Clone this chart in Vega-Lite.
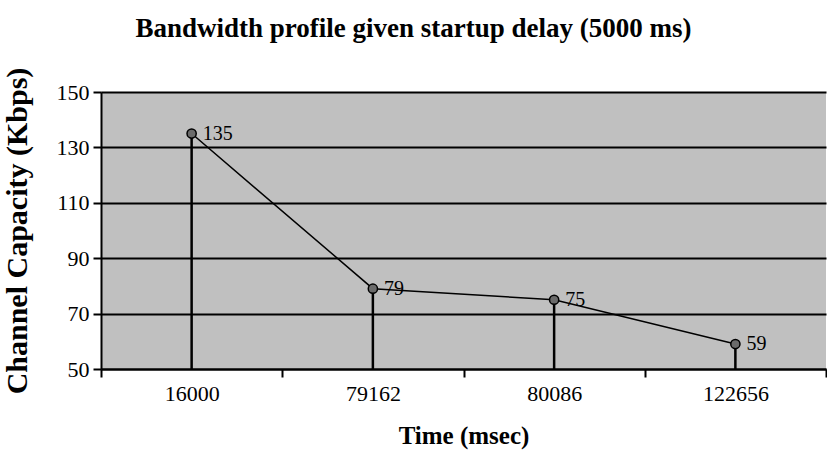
{
  "$schema": "https://vega.github.io/schema/vega-lite/v6.json",
  "width": 725,
  "height": 277,
  "autosize": {"type": "none"},
  "padding": {"left": 101, "top": 92, "right": 1, "bottom": 86},
  "background": "white",
  "config": {
    "font": "Liberation Serif",
    "view": {"fill": "#c0c0c0", "stroke": null}
  },
  "title": {
    "text": "Bandwidth profile given startup delay (5000 ms)",
    "font": "Liberation Serif",
    "fontSize": 27,
    "fontWeight": "bold",
    "color": "black",
    "anchor": "middle",
    "frame": "group",
    "dx": -50,
    "offset": 24
  },
  "data": {
    "values": [
      {"time": "16000", "capacity": 135},
      {"time": "79162", "capacity": 79},
      {"time": "80086", "capacity": 75},
      {"time": "122656", "capacity": 59}
    ]
  },
  "encoding": {
    "x": {
      "field": "time",
      "type": "ordinal",
      "sort": null,
      "scale": {"paddingInner": 0, "paddingOuter": 0},
      "axis": {
        "title": "Time (msec)",
        "titleFont": "Liberation Serif",
        "titleFontSize": 25,
        "titleFontWeight": "bold",
        "titleColor": "black",
        "titlePadding": 19,
        "labelFont": "Liberation Serif",
        "labelFontSize": 22,
        "labelColor": "black",
        "labelAngle": 0,
        "labelPadding": 6,
        "tickBand": "extent",
        "tickColor": "black",
        "tickWidth": 2,
        "tickSize": 8,
        "domainColor": "black",
        "domainWidth": 2,
        "grid": false
      }
    },
    "y": {
      "field": "capacity",
      "type": "quantitative",
      "scale": {"domain": [50, 150], "nice": false, "zero": false},
      "axis": {
        "title": "Channel Capacity (Kbps)",
        "titleFont": "Liberation Serif",
        "titleFontSize": 30,
        "titleFontWeight": "bold",
        "titleColor": "black",
        "titlePadding": 24,
        "values": [50, 70, 90, 110, 130, 150],
        "labelFont": "Liberation Serif",
        "labelFontSize": 22,
        "labelColor": "black",
        "labelPadding": 4,
        "tickColor": "black",
        "tickWidth": 2,
        "tickSize": 8,
        "domainColor": "black",
        "domainWidth": 2,
        "grid": true,
        "gridColor": "black",
        "gridWidth": 2,
        "gridOpacity": 1
      }
    }
  },
  "layer": [
    {
      "mark": {"type": "rule", "color": "black", "strokeWidth": 2.5},
      "encoding": {"y2": {"datum": 50}}
    },
    {
      "mark": {"type": "line", "color": "black", "strokeWidth": 1.5}
    },
    {
      "mark": {"type": "point", "filled": true, "fill": "#6b6b6b", "stroke": "black", "strokeWidth": 1.5, "opacity": 1, "size": 85}
    },
    {
      "mark": {"type": "text", "align": "left", "baseline": "middle", "dx": 11, "fontSize": 20, "font": "Liberation Serif", "color": "black"},
      "encoding": {"text": {"field": "capacity", "type": "quantitative"}}
    }
  ]
}
